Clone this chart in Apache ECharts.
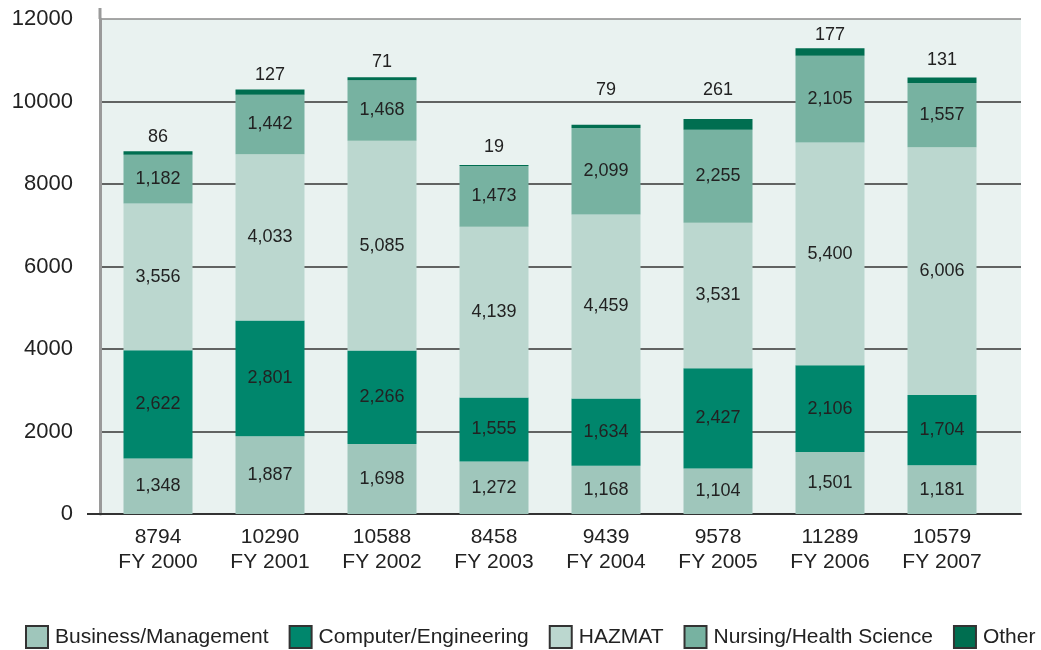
<!DOCTYPE html>
<html>
<head>
<meta charset="utf-8">
<script src="https://cdn.jsdelivr.net/npm/echarts@6/dist/echarts.min.js"></script>
<style>
  html, body { margin: 0; padding: 0; background: #ffffff; }
  #chart { width: 1041px; height: 650px; }
</style>
</head>
<body>
<div id="chart"></div>
<script>
// Enrollment by program area, fiscal years 2000-2007
const years = ['FY 2000', 'FY 2001', 'FY 2002', 'FY 2003', 'FY 2004', 'FY 2005', 'FY 2006', 'FY 2007'];
const totals = [8794, 10290, 10588, 8458, 9439, 9578, 11289, 10579];

const businessManagement = [1348, 1887, 1698, 1272, 1168, 1104, 1501, 1181];
const computerEngineering = [2622, 2801, 2266, 1555, 1634, 2427, 2106, 1704];
const hazmat = [3556, 4033, 5085, 4139, 4459, 3531, 5400, 6006];
const nursingHealth = [1182, 1442, 1468, 1473, 2099, 2255, 2105, 1557];
const other = [86, 127, 71, 19, 79, 261, 177, 131];

const yTicks = { min: 0, max: 12000, interval: 2000 };

// gap between each "Other" bar top and its value label
const otherLabelGap = [5, 6, 6, 9, 26, 20, 4, 9];

const FONT = '"Liberation Sans", Arial, sans-serif';
const TEXT = '#222222';

const categoryLabels = years.map((y, i) => totals[i] + '\n' + y);
const fmt = p => Number(p.value).toLocaleString('en-US');

function stackSeries(name, data, color) {
  return {
    name, type: 'bar', stack: 'total',
    xAxisIndex: 1, yAxisIndex: 1,
    barWidth: 69,
    itemStyle: { color },
    label: {
      show: true, position: 'inside', formatter: fmt,
      fontFamily: FONT, fontSize: 18, color: TEXT
    },
    data
  };
}

const chart = echarts.init(document.getElementById('chart'), null, { renderer: 'canvas' });

chart.setOption({
  animation: false,
  backgroundColor: '#ffffff',
  textStyle: { fontFamily: FONT },
  grid: [
    { left: 100, right: 20, top: 19, bottom: 136, show: true,
      backgroundColor: '#e9f2f0', borderWidth: 0 },
    { left: 102, width: 896, top: 19, bottom: 136 }
  ],
  // short stubs where the axis lines run past the plot corner
  graphic: [
    { type: 'line', shape: { x1: 87, y1: 514, x2: 100, y2: 514 },
      style: { stroke: '#333333', lineWidth: 2 }, z: 10 },
    { type: 'line', shape: { x1: 100, y1: 8, x2: 100, y2: 19 },
      style: { stroke: '#9a9a9a', lineWidth: 3 }, z: 10 }
  ],
  xAxis: [
    { gridIndex: 0, type: 'category', data: years,
      axisLine: { show: true, lineStyle: { color: '#333333', width: 2 } },
      axisTick: { show: false }, axisLabel: { show: false }, splitLine: { show: false } },
    { gridIndex: 1, type: 'category', data: categoryLabels,
      axisLine: { show: false }, axisTick: { show: false },
      axisLabel: { fontFamily: FONT, fontSize: 21, color: TEXT, lineHeight: 25, margin: 11 } }
  ],
  yAxis: [
    { gridIndex: 0, type: 'value', min: yTicks.min, max: yTicks.max, interval: yTicks.interval,
      axisLine: { show: true, lineStyle: { color: '#9a9a9a', width: 3 } },
      axisTick: { show: false },
      axisLabel: { fontFamily: FONT, fontSize: 22, color: TEXT, margin: 27, formatter: v => String(v) },
      splitLine: { show: true, lineStyle: { color: ['#333333', '#333333', '#333333', '#333333', '#333333', '#333333', '#8a8a8a'], width: 1.5 } } },
    { gridIndex: 1, type: 'value', min: yTicks.min, max: yTicks.max, interval: yTicks.interval, show: false }
  ],
  legend: {
    left: 25, top: 625, width: 1041, padding: 0,
    icon: 'rect', itemWidth: 22, itemHeight: 22, itemGap: 20,
    itemStyle: { borderColor: '#333333', borderWidth: 2 },
    textStyle: { fontFamily: FONT, fontSize: 21, color: TEXT, padding: [0, 0, 0, 2] },
    data: ['Business/Management', 'Computer/Engineering', 'HAZMAT', 'Nursing/Health Science', 'Other']
  },
  series: [
    stackSeries('Business/Management', businessManagement, '#9fc6bb'),
    stackSeries('Computer/Engineering', computerEngineering, '#00866c'),
    stackSeries('HAZMAT', hazmat, '#bbd7cf'),
    stackSeries('Nursing/Health Science', nursingHealth, '#77b2a1'),
    {
      name: 'Other', type: 'bar', stack: 'total',
      xAxisIndex: 1, yAxisIndex: 1, barWidth: 69,
      itemStyle: { color: '#006e50' },
      label: { show: true, position: 'top', formatter: fmt,
        fontFamily: FONT, fontSize: 18, color: TEXT },
      data: other.map((v, i) => ({ value: v, label: { distance: otherLabelGap[i] } }))
    }
  ]
});
</script>
</body>
</html>
